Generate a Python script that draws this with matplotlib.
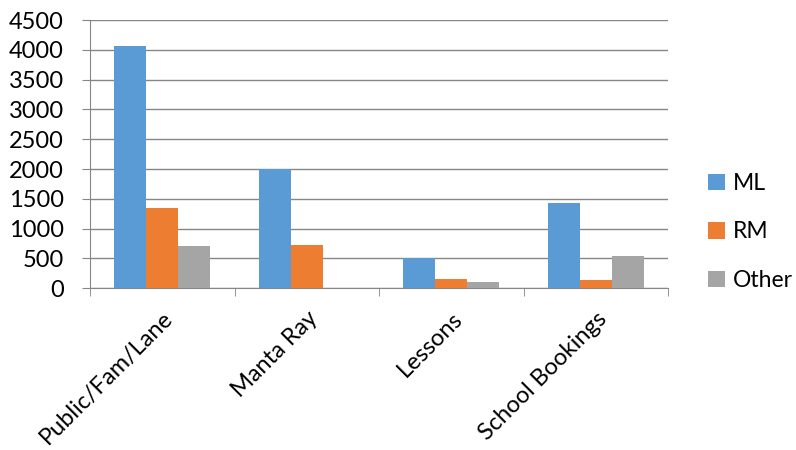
import matplotlib
matplotlib.use("Agg")
import matplotlib.pyplot as plt
import numpy as np

plt.rcParams['font.family'] = ['Lato', 'DejaVu Sans']

categories = ["Public/Fam/Lane", "Manta Ray", "Lessons", "School Bookings"]
ml = [4070, 2000, 510, 1430]
rm = [1345, 722, 155, 138]
other = [705, 0, 110, 550]
series_names = ["ML", "RM", "Other"]
colores = ["#5b9bd5", "#ed7d31", "#a5a5a5"]
yticks = [0, 500, 1000, 1500, 2000, 2500, 3000, 3500, 4000, 4500]

fig = plt.figure(figsize=(7.96, 4.5), dpi=100)
ax = fig.add_axes([90/796, 1-288.3/450, 578/796, 268.3/450])

x = np.arange(len(categories))
w = 1/4.5
for i, vals in enumerate([ml, rm, other]):
    ax.bar(x + (i-1)*w, vals, width=w, color=colores[i], label=series_names[i], zorder=3)

ax.set_xlim(-0.5, len(categories)-0.5)
ax.set_ylim(0, 4500)
ax.set_yticks(yticks)
ax.tick_params(axis='y', labelsize=17, length=6, color='#868686', pad=13)
ax.grid(axis='y', color='#868686', linewidth=1, zorder=0)

ax.set_xticks(x)
ax.set_xticklabels(categories, rotation=45, ha='right', rotation_mode='anchor', fontsize=17)
ax.tick_params(axis='x', which='major', length=0, pad=14)
ax.set_xticks(np.arange(len(categories)+1)-0.5, minor=True)
ax.tick_params(axis='x', which='minor', length=6, color='#868686')

for s in ['top', 'right']:
    ax.spines[s].set_visible(False)
for s in ['left', 'bottom']:
    ax.spines[s].set_color('#868686')

ax.legend(loc='center left', bbox_to_anchor=((708-90)/578, 0.21), frameon=False,
          fontsize=16.5, handlelength=0.75, handleheight=0.75, labelspacing=1.2,
          handletextpad=0.35, borderaxespad=0, borderpad=0)

fig.savefig("out.png", dpi=100)
